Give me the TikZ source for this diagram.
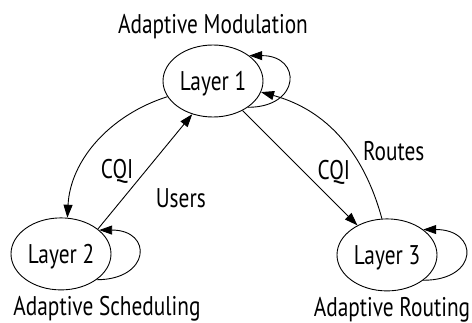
\documentclass[tikz,border=0pt]{standalone}
\usepackage{fontspec}
\usetikzlibrary{shapes.geometric, arrows.meta, positioning}
\newfontfamily\diagfont[FakeStretch=0.79]{PT Sans}
\tikzstyle{layer} = [ellipse, minimum width=100pt, minimum height=72pt, inner sep=0pt, text centered, draw=black, line width=0.9pt, font=\diagfont\fontsize{27}{30}\selectfont, text height=19pt, text depth=0pt]
\tikzstyle{tag} = [inner sep=0pt, font=\diagfont\fontsize{27}{30}\selectfont, text height=19pt, text depth=0pt]
\tikzstyle{arrow} = [line width=0.9pt,->,>={Triangle[length=13pt,width=9pt]}]

\begin{document}
\begin{tikzpicture}[node distance=2cm]
\useasboundingbox (-213pt,81pt) rectangle (259pt,-242pt);

% Layers
\node (layer1) [layer] {Layer 1};
\node (layer2) [layer, below of=layer1, xshift=-152pt, yshift=-116pt] {Layer 2};
\node (layer3) [layer, below of=layer1, xshift=174pt, yshift=-117pt] {Layer 3};

\node (modulation) [tag, above of=layer1] {Adaptive Modulation};
\node (scheduling) [tag, below of=layer2, xshift=46pt, yshift=5pt] {Adaptive Scheduling};
\node (routing) [tag, below of=layer3, xshift=5pt, yshift=5pt] {Adaptive Routing};

% Links between layers
\draw[arrow] (layer1.199) .. controls +(-57pt,-18pt) and +(3pt,58pt) .. (layer2.80) node[tag, pos=0.7, right=21pt] (cqi2) {CQI};
\draw[arrow] (layer2.34) -- (layer1.238) node[tag, pos=0.27, right=32pt] (users) {Users};
\draw[arrow] (layer1) -- (layer3) node[tag, pos=0.52, right=15pt] (cqi3) {CQI};
\draw[arrow] (layer3.98) .. controls +(-18pt,66pt) and +(66pt,-18pt) .. (layer1.-13) node[tag, pos=0.4, right=12pt] (routes) {Routes};

% Self loops
\draw[arrow] (layer1.-37) .. controls +(53pt,0pt) and +(53pt,0pt) .. (layer1.35);
\draw[arrow] (layer2.-36) .. controls +(54pt,0pt) and +(54pt,0pt) .. (layer2.32);
\draw[arrow] (layer3.-35) .. controls +(56pt,0pt) and +(56pt,0pt) .. (layer3.35);

\end{tikzpicture}
\end{document}
